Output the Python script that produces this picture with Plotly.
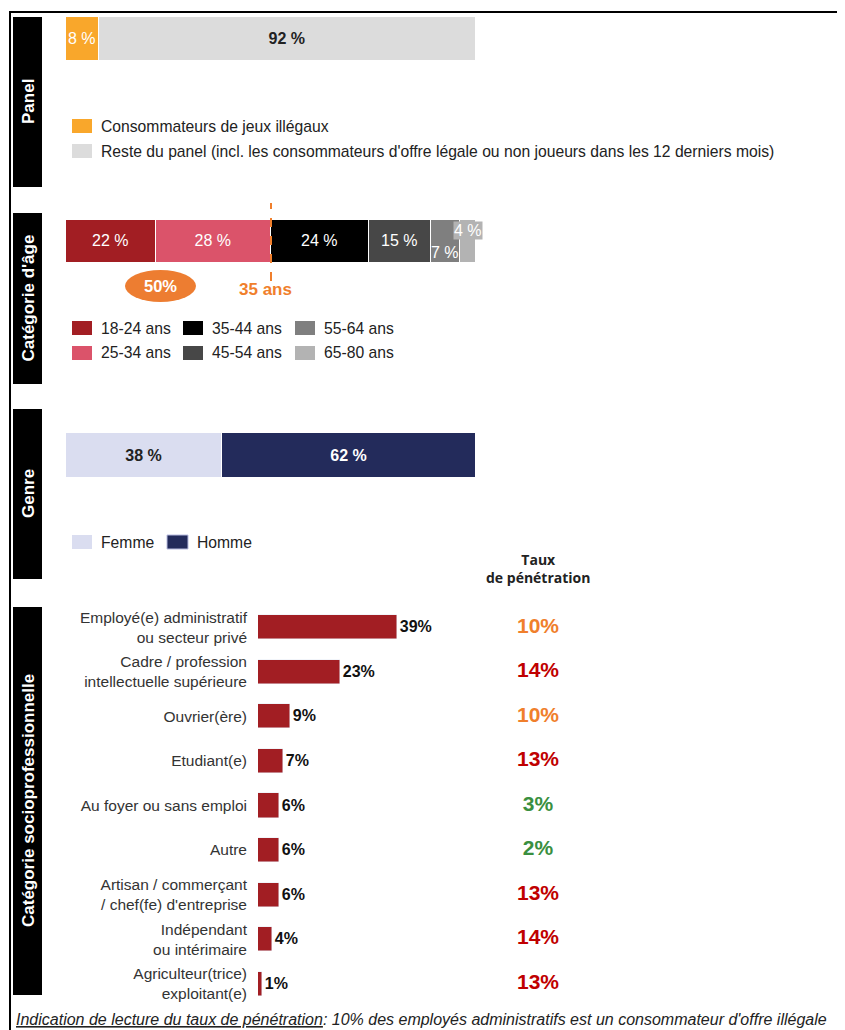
import plotly.graph_objects as go

# the page body has an 8px margin: size the figure to fit the window
OFF = 8
W, H = 845 - OFF, 1030 - OFF
FONT = "Liberation Sans, Arial, sans-serif"

# --- data -------------------------------------------------------------
panel_labels = ["Consommateurs de jeux illégaux",
                "Reste du panel (incl. les consommateurs d'offre légale ou non joueurs dans les 12 derniers mois)"]
panel_values = [8, 92]
panel_colors = ["#F9A72B", "#DCDCDC"]

age_labels = ["18-24 ans", "25-34 ans", "35-44 ans", "45-54 ans", "55-64 ans", "65-80 ans"]
age_values = [22, 28, 24, 15, 7, 4]
age_colors = ["#A21E23", "#DB536A", "#000000", "#474747", "#7F7F7F", "#B3B3B3"]
age_cut = 50  # share below 35 years

genre_labels = ["Femme", "Homme"]
genre_values = [38, 62]
genre_colors = ["#DADDF0", "#232B5B"]

csp_labels = ["Employé(e) administratif<br>ou secteur privé",
              "Cadre / profession<br>intellectuelle supérieure",
              "Ouvrier(ère)",
              "Etudiant(e)",
              "Au foyer ou sans emploi",
              "Autre",
              "Artisan / commerçant<br>/ chef(fe) d'entreprise",
              "Indépendant<br>ou intérimaire",
              "Agriculteur(trice)<br>exploitant(e)"]
csp_values = [39, 23, 9, 7, 6, 6, 6, 4, 1]
taux_values = [10, 14, 10, 13, 3, 2, 13, 14, 13]
taux_colors = ["#F07F2C", "#C00000", "#F07F2C", "#C00000", "#3A8F3F",
               "#3A8F3F", "#C00000", "#C00000", "#C00000"]


def X(px):
    return (px - OFF) / W


def Y(py):
    return 1 - (py - OFF) / H


fig = go.Figure()

# panel bar
for lab, v, c, tc in zip(panel_labels, panel_values, panel_colors, ["white", "#222222"]):
    fig.add_trace(go.Bar(
        x=[v], y=[0], orientation="h", marker=dict(color=c, line=dict(color="white", width=1.5)),
        width=1, text=[f"{v} %"], textposition="inside", insidetextanchor="middle", textangle=0,
        textfont=dict(color=tc, size=16, family=FONT, weight="bold" if v > 50 else "normal"),
        constraintext="none", xaxis="x", yaxis="y", hoverinfo="skip", showlegend=False))

# age bar
for lab, v, c in zip(age_labels, age_values, age_colors):
    fig.add_trace(go.Bar(
        x=[v], y=[0], orientation="h", marker=dict(color=c, line=dict(color="white", width=1.5)),
        width=1, text=[f"{v} %" if v >= 10 else ""], textposition="inside", insidetextanchor="middle",
        textangle=0, textfont=dict(color="white", size=16, family=FONT),
        constraintext="none", xaxis="x2", yaxis="y2", hoverinfo="skip", showlegend=False))

# genre bar
for lab, v, c, tc in zip(genre_labels, genre_values, genre_colors, ["#222222", "white"]):
    fig.add_trace(go.Bar(
        x=[v], y=[0], orientation="h", marker=dict(color=c, line=dict(color="white", width=1)),
        width=1, text=[f"{v} %"], textposition="inside", insidetextanchor="middle", textangle=0,
        textfont=dict(color=tc, size=16, family=FONT, weight="bold"),
        constraintext="none", xaxis="x3", yaxis="y3", hoverinfo="skip", showlegend=False))

# CSP bars
fig.add_trace(go.Bar(
    x=csp_values, y=csp_labels, orientation="h", marker=dict(color="#A21E23"),
    width=0.54, text=[f"{v}%" for v in csp_values], textposition="outside", textangle=0,
    textfont=dict(color="#111111", size=16, family=FONT, weight="bold"),
    cliponaxis=False, xaxis="x4", yaxis="y4", hoverinfo="skip", showlegend=False))

# penetration rates
fig.add_trace(go.Scatter(
    x=[0] * len(csp_labels), y=csp_labels, mode="text",
    text=[f"{t}%" for t in taux_values],
    textfont=dict(color=taux_colors, size=21, family=FONT, weight="bold"),
    xaxis="x5", yaxis="y4", hoverinfo="skip", showlegend=False, cliponaxis=False))

shapes = []
annotations = []

# outer frame
shapes.append(dict(type="rect", xref="paper", yref="paper", x0=X(10), x1=X(870), y0=Y(1060), y1=Y(12),
                   line=dict(color="black", width=2), layer="below"))

# side label boxes
sides = [("Panel", 17, 187), ("Catégorie d'âge", 213, 384), ("Genre", 409, 579),
         ("Catégorie socioprofessionnelle", 607, 995)]
for txt, t, b in sides:
    shapes.append(dict(type="rect", xref="paper", yref="paper", x0=X(13), x1=X(42), y0=Y(b), y1=Y(t),
                       fillcolor="black", line=dict(width=0)))
    annotations.append(dict(text=f"<b>{txt}</b>", x=X(28), y=Y((t + b) / 2), xref="paper", yref="paper",
                            xanchor="center", yanchor="middle", textangle=-90, showarrow=False,
                            font=dict(color="white", size=17, family=FONT)))


def legend_item(x, y, color, label, w=20, h=14, border=None):
    shapes.append(dict(type="rect", xref="paper", yref="paper", x0=X(x), x1=X(x + w),
                       y0=Y(y + h / 2), y1=Y(y - h / 2), fillcolor=color,
                       line=dict(width=1 if border else 0, color=border or color)))
    annotations.append(dict(text=label, x=X(x + w + 7), y=Y(y), xref="paper", yref="paper",
                            xanchor="left", yanchor="middle", showarrow=False,
                            font=dict(color="#222222", size=15.7, family=FONT)))


# panel legend
legend_item(72, 126, panel_colors[0], panel_labels[0])
legend_item(72, 151, panel_colors[1], panel_labels[1])

# age legend (3 columns x 2 rows)
cols = [72, 183, 295]
rows = [328, 353]
for i, (lab, c) in enumerate(zip(age_labels, age_colors)):
    legend_item(cols[i // 2], rows[i % 2], c, lab)

# genre legend
legend_item(72, 542, genre_colors[0], genre_labels[0])
legend_item(167, 542, genre_colors[1], genre_labels[1], w=21, border="#B8BCE0")

# age annotations: 35 ans marker and 50% bubble
shapes.append(dict(type="line", xref="x2", yref="paper", x0=age_cut, x1=age_cut, y0=Y(281), y1=Y(203),
                   line=dict(color="#F07F2C", width=2, dash="dash")))
annotations.append(dict(text="<b>35 ans</b>", x=age_cut, y=Y(290), xref="x2", yref="paper",
                        xanchor="center", yanchor="middle", xshift=-6, showarrow=False,
                        font=dict(color="#F07F2C", size=17, family=FONT)))
shapes.append(dict(type="circle", xref="paper", yref="paper", x0=X(125), x1=X(196), y0=Y(302), y1=Y(270),
                   fillcolor="#ED7D31", line=dict(width=0)))
annotations.append(dict(text=f"<b>{age_cut}%</b>", x=X(160.5), y=Y(286), xref="paper", yref="paper",
                        xanchor="center", yanchor="middle", showarrow=False,
                        font=dict(color="white", size=16.5, family=FONT)))

# small age segments labels
cum = 0
for i, v in enumerate(age_values):
    mid = cum + v / 2
    cum += v
    if v < 10:
        if i == len(age_values) - 1:
            annotations.append(dict(text=f"{v} %", x=mid, y=0, xref="x2", yref="y2", yshift=11, xshift=0,
                                    xanchor="center", yanchor="middle",
                                    showarrow=False, bgcolor=age_colors[i], borderpad=0,
                                    font=dict(color="white", size=16, family=FONT)))
        else:
            annotations.append(dict(text=f"{v} %", x=mid, y=0, xref="x2", yref="y2", yshift=-11,
                                    xanchor="center", yanchor="middle",
                                    showarrow=False, font=dict(color="white", size=16, family=FONT)))

# column header
annotations.append(dict(text="<b>Taux<br>de pénétration</b>", x=X(538), y=Y(568), xref="paper", yref="paper",
                        xanchor="center", yanchor="middle", showarrow=False, align="center",
                        font=dict(color="#222222", size=14, family="Open Sans, sans-serif")))

# reading note
annotations.append(dict(
    text="<i><u>Indication de lecture du taux de pénétration</u>: 10% des employés administratifs "
         "est un consommateur d'offre illégale</i>",
    x=X(14), y=Y(1019), xref="paper", yref="paper", xanchor="left", yanchor="middle",
    showarrow=False, font=dict(color="#222222", size=16, family=FONT)))

hidden = dict(visible=False, fixedrange=True)
fig.update_layout(
    width=W, height=H, margin=dict(l=0, r=0, t=0, b=0),
    paper_bgcolor="white", plot_bgcolor="white",
    barmode="stack", bargap=0, showlegend=False,
    font=dict(family=FONT, color="#222222"),
    xaxis=dict(domain=[X(66), X(476)], range=[0, 100], anchor="y", **hidden),
    yaxis=dict(domain=[Y(61), Y(17)], range=[-0.5, 0.5], anchor="x", **hidden),
    xaxis2=dict(domain=[X(66), X(476)], range=[0, 100], anchor="y2", **hidden),
    yaxis2=dict(domain=[Y(263), Y(220)], range=[-0.5, 0.5], anchor="x2", **hidden),
    xaxis3=dict(domain=[X(66), X(476)], range=[0, 100], anchor="y3", **hidden),
    yaxis3=dict(domain=[Y(478), Y(433)], range=[-0.5, 0.5], anchor="x3", **hidden),
    xaxis4=dict(domain=[X(258), X(614)], range=[0, 100], anchor="y4", **hidden),
    yaxis4=dict(domain=[Y(1006), Y(605)], anchor="x4", type="category", autorange="reversed",
                showgrid=False, zeroline=False, showline=False, ticks="", ticklabelstandoff=10,
                tickfont=dict(size=15.5, color="#333333", family=FONT), fixedrange=True),
    xaxis5=dict(domain=[X(500), X(576)], range=[-1, 1], anchor="y4", **hidden),
    shapes=shapes, annotations=annotations,
)

fig.write_html("out.html")
